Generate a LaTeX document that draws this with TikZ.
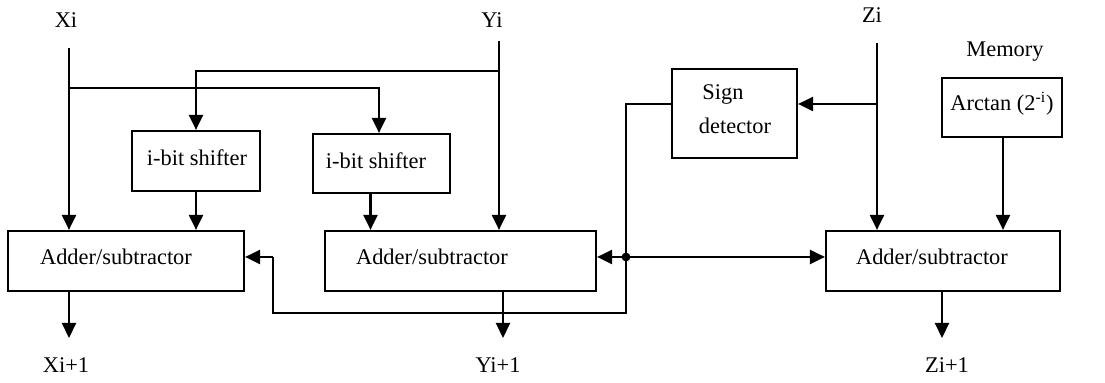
\documentclass[tikz,border=0pt]{standalone}
\usepackage{fontspec}
\setmainfont{Liberation Serif}
\usetikzlibrary{arrows.meta,calc}
\tikzset{
  blk/.style={draw, line width=1.1pt, rectangle, inner sep=0pt},
  lbl/.style={inner sep=0pt, font=\fontsize{11.2pt}{13.5pt}\selectfont},
  wire/.style={line width=1.1pt},
  arr/.style={wire, -{Triangle[length=7.5pt,width=7pt]}},
}
\begin{document}
\begin{tikzpicture}[x=0.5pt,y=-0.5pt]
\useasboundingbox (0,0) rectangle (1105,383);

% blocks
\node[blk, minimum width=118pt, minimum height=30pt] (a1) at (126,261) {};
\node[blk, minimum width=135.5pt, minimum height=30pt] (a2) at (460.5,261) {};
\node[blk, minimum width=117pt, minimum height=30pt] (a3) at (943,261) {};
\node[blk, minimum width=64pt, minimum height=30pt] (s1) at (196,161) {};
\node[blk, minimum width=68.5pt, minimum height=29.5pt] (s2) at (381.5,163.5) {};
\node[blk, minimum width=62.5pt, minimum height=44.5pt] (sd) at (734.5,113.5) {};
\node[blk, minimum width=60pt, minimum height=29.5pt] (mem) at (1002,107.5) {};

% block texts
\node[lbl] (ta1) at (116,257) {Adder/subtractor};
\node[lbl] (ta2) at (432,257) {Adder/subtractor};
\node[lbl] (ta3) at (932,257) {Adder/subtractor};
\node[lbl] (ts1) at (197,158) {i-bit shifter};
\node[lbl] (ts2) at (376,161) {i-bit shifter};
\node[lbl] (tsd1) at (723,95) {Sign};
\node[lbl] (tsd2) at (735,126) {detector};
\node[lbl] (tmem) at (1002,104) {Arctan (2\textsuperscript{-i})};

% input / output labels
\node[lbl] (xi) at (66,20) {Xi};
\node[lbl] (yi) at (492,20) {Yi};
\node[lbl] (zi) at (872,15) {Zi};
\node[lbl] (memlbl) at (1005,52) {Memory};
\node[lbl] (xo) at (66,365) {Xi+1};
\node[lbl] (yo) at (498,365) {Yi+1};
\node[lbl] (zo) at (947,365) {Zi+1};

% wire coordinates
\coordinate (xin) at (69,48);
\coordinate (yin) at (499,41);
\coordinate (zin) at (877,43);
\coordinate (xtap) at (69,88);
\coordinate (ytap) at (499,71);
\coordinate (ztap) at (877,104);
\coordinate (sgn) at (626,257);
\coordinate (s2out) at ($(s2.south)+(-11,0)$);
\coordinate (memout) at (1003,137);

% X path
\draw[arr] (xin) -- (xin |- a1.north);
\draw[arr] (xtap) -- (379,88) -- (379,0 |- s2.north);
% Y path
\draw[arr] (yin) -- (yin |- a2.north);
\draw[arr] (ytap) -- (s1.north |- ytap) -- (s1.north);
% shifters into adders
\draw[arr] (s1.south) -- (s1.south |- a1.north);
\draw[arr] (s2out) -- (s2out |- a2.north);
% Z path
\draw[arr] (zin) -- (zin |- a3.north);
\draw[arr] (ztap) -- (sd.east |- ztap);
\draw[arr] (memout) -- (memout |- a3.north);

% sign distribution
\draw[wire] (sd.west |- ztap) -- (626,104) -- (626,313) -- (273,313) -- (273,257);
\draw[arr] (273,257) -- (a1.east |- sgn);
\draw[arr] (sgn) -- (a2.east |- sgn);
\draw[arr] (sgn) -- (a3.west |- sgn);
\fill (sgn) circle (2.2pt);

% outputs
\draw[arr] (69,0 |- a1.south) -- (69,338);
\draw[arr] (503,0 |- a2.south) -- (503,338);
\draw[arr] (942,0 |- a3.south) -- (942,338);
\end{tikzpicture}
\end{document}
